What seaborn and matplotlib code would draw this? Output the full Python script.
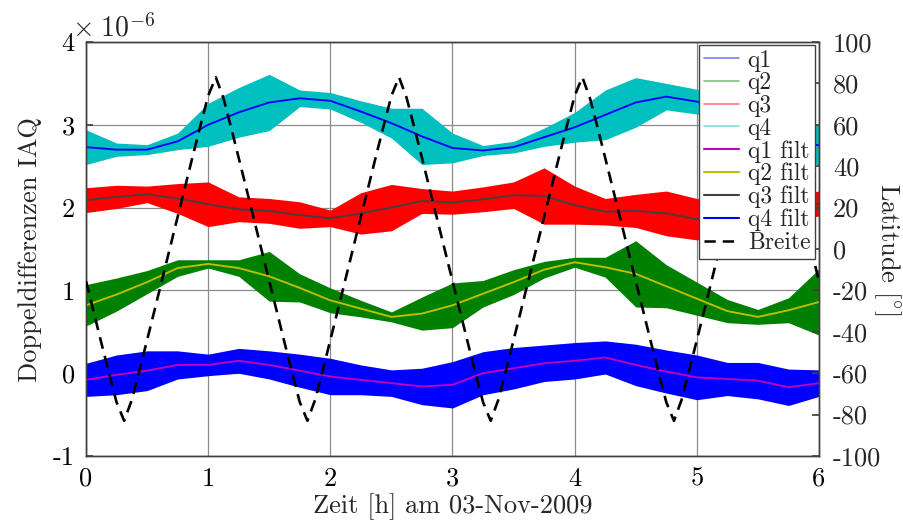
import numpy as np
import pandas as pd
import matplotlib
matplotlib.use("Agg")
import matplotlib.pyplot as plt
import seaborn as sns
from matplotlib.lines import Line2D

# Sample times of the smoothed series [h]
hours = [0.0, 0.25, 0.5, 0.75, 1.0, 1.25, 1.5, 1.75, 2.0, 2.25, 2.5, 2.75, 3.0,
         3.25, 3.5, 3.75, 4.0, 4.25, 4.5, 4.75, 5.0, 5.25, 5.5, 5.75, 6.0]

# Filtered double differences [1e-6]
q1_filt = [-0.08, -0.02, 0.03, 0.10, 0.10, 0.15, 0.10, 0.03, -0.04, -0.08, -0.12, -0.16, -0.14,
           0.00, 0.06, 0.12, 0.15, 0.19, 0.10, 0.02, -0.05, -0.07, -0.09, -0.17, -0.12]
q2_filt = [0.82, 0.95, 1.10, 1.27, 1.32, 1.27, 1.17, 1.03, 0.88, 0.78, 0.68, 0.72, 0.82,
           0.96, 1.10, 1.25, 1.34, 1.28, 1.20, 1.05, 0.90, 0.75, 0.68, 0.76, 0.86]
q3_filt = [2.09, 2.13, 2.16, 2.11, 2.04, 1.98, 1.96, 1.91, 1.87, 1.93, 2.00, 2.08, 2.06,
           2.10, 2.15, 2.14, 2.03, 1.95, 1.96, 1.93, 1.86, 1.85, 1.90, 1.98, 2.05]
q4_filt = [2.73, 2.70, 2.70, 2.80, 3.00, 3.15, 3.27, 3.32, 3.29, 3.16, 3.02, 2.86, 2.72,
           2.69, 2.73, 2.85, 2.97, 3.12, 3.27, 3.34, 3.28, 3.18, 3.02, 2.85, 2.75]

# Half-width of the raw (unfiltered) scatter around each filtered curve [1e-6]
q1_spread = [0.20, 0.24, 0.24, 0.17, 0.13, 0.15, 0.17, 0.20, 0.22, 0.18, 0.16, 0.22, 0.28,
             0.26, 0.25, 0.22, 0.22, 0.20, 0.25, 0.26, 0.27, 0.20, 0.22, 0.22, 0.16]
q2_spread = [0.25, 0.20, 0.14, 0.10, 0.05, 0.10, 0.30, 0.17, 0.15, 0.10, 0.06, 0.20, 0.27,
             0.16, 0.15, 0.10, 0.06, 0.12, 0.40, 0.26, 0.20, 0.14, 0.09, 0.15, 0.40]
q3_spread = [0.15, 0.14, 0.10, 0.18, 0.27, 0.15, 0.15, 0.16, 0.10, 0.25, 0.28, 0.15, 0.14,
             0.15, 0.16, 0.34, 0.23, 0.16, 0.20, 0.27, 0.25, 0.20, 0.18, 0.16, 0.15]
q4_spread = [0.21, 0.08, 0.06, 0.10, 0.26, 0.30, 0.34, 0.10, 0.10, 0.13, 0.18, 0.34, 0.18,
             0.06, 0.07, 0.11, 0.18, 0.30, 0.30, 0.16, 0.15, 0.15, 0.17, 0.20, 0.24]

# Satellite latitude ("Breite") [deg], sampled every 3.75 min
breite_hours = np.linspace(0.0, 6.0, 97)
breite = [-15.5, -30.3, -45.2, -59.8, -74.0, -83.0, -72.9, -58.7, -44.0, -29.2, -14.3, 0.6,
          15.5, 30.3, 45.2, 59.8, 74.0, 83.0, 72.9, 58.7, 44.0, 29.2, 14.3, -0.6,
          -15.5, -30.3, -45.2, -59.8, -74.0, -83.0, -72.9, -58.7, -44.0, -29.2, -14.3, 0.6,
          15.5, 30.3, 45.2, 59.8, 74.0, 83.0, 72.9, 58.7, 44.0, 29.2, 14.3, -0.6,
          -15.5, -30.3, -45.2, -59.8, -74.0, -83.0, -72.9, -58.7, -44.0, -29.2, -14.3, 0.6,
          15.5, 30.3, 45.2, 59.8, 74.0, 83.0, 72.9, 58.7, 44.0, 29.2, 14.3, -0.6,
          -15.5, -30.3, -45.2, -59.8, -74.0, -83.0, -72.9, -58.7, -44.0, -29.2, -14.3, 0.6,
          15.5, 30.3, 45.2, 59.8, 74.0, 83.0, 72.9, 58.7, 44.0, 29.2, 14.3, -0.6,
          -15.5]

x_ticks = [0, 1, 2, 3, 4, 5, 6]
left_ticks = [-1, 0, 1, 2, 3, 4]
left_tick_labels = ["-1", "0", "1", "2", "3", "4"]
right_ticks = [-100, -80, -60, -40, -20, 0, 20, 40, 60, 80, 100]
right_tick_labels = ["-100", "-80", "-60", "-40", "-20", "0", "20", "40", "60", "80", "100"]

raw_names = ["q1", "q2", "q3", "q4"]
filt_names = ["q1 filt", "q2 filt", "q3 filt", "q4 filt"]
raw_colors = ["#0000ff", "#008000", "#ff0000", "#00bfbf"]
filt_colors = ["#bf00bf", "#bfbf00", "#404040", "#0000ff"]

sns.set_theme(style="white")
plt.rcParams.update({
    "font.family": ["cmr10", "DejaVu Serif"],
    "mathtext.fontset": "cm",
    "axes.unicode_minus": False,
    "axes.formatter.use_mathtext": True,
})

FS = 19

fig = plt.figure(figsize=(9.04, 5.25), dpi=100)
ax = fig.add_axes([86 / 904, 1 - 456 / 525, 733 / 904, 414 / 525])

centres = [q1_filt, q2_filt, q3_filt, q4_filt]
spreads = [q1_spread, q2_spread, q3_spread, q4_spread]

# raw scatter bands
for c, s, col in zip(centres, spreads, raw_colors):
    c = np.asarray(c)
    s = np.asarray(s)
    ax.fill_between(hours, c - s, c + s, color=col, lw=0, zorder=2)

# filtered curves
filt_df = pd.DataFrame({
    "Zeit": np.tile(hours, 4),
    "Wert": np.concatenate(centres),
    "Reihe": np.repeat(filt_names, len(hours)),
})
sns.lineplot(data=filt_df, x="Zeit", y="Wert", hue="Reihe", palette=filt_colors,
             hue_order=filt_names, lw=1.35, legend=False, ax=ax, zorder=3)

ax.set_xlim(0, 6)
ax.set_ylim(-1, 4)
ax.set_xticks(x_ticks)
ax.set_xticklabels([str(v) for v in x_ticks])
ax.set_yticks(left_ticks)
ax.set_yticklabels(left_tick_labels)
ax.grid(True, color="#8a8a8a", lw=0.9)
ax.set_axisbelow(True)
for sp in ax.spines.values():
    sp.set_color("#404040")
    sp.set_linewidth(1.0)
ax.tick_params(axis="both", direction="in", length=5, color="#404040",
               labelsize=FS, labelcolor="black", pad=8)
ax.set_xlabel("Zeit [h] am 03-Nov-2009", fontsize=FS, labelpad=2)
ax.set_ylabel("Doppeldifferenzen IAQ", fontsize=FS, labelpad=8)
ax.text(-0.019, 0.999, r"$\times\;10^{-6}$", transform=ax.transAxes,
        fontsize=20, ha="left", va="bottom")

# latitude on the right axis
ax2 = ax.twinx()
sns.lineplot(x=breite_hours, y=breite, ax=ax2, color="black", lw=1.9,
             linestyle=(0, (4.5, 2.8)), zorder=4)
ax2.set_ylim(-100, 100)
ax2.set_xlim(0, 6)
ax2.set_yticks(right_ticks)
ax2.set_yticklabels(right_tick_labels)
ax2.tick_params(axis="y", direction="in", length=5, color="#404040",
                labelsize=FS, pad=10)
ax2.set_ylabel("Latitude [$^{\\circ}$]", fontsize=FS, rotation=270,
               va="center", ha="center")
ax2.yaxis.set_label_coords(1.093, 0.5)
for sp in ax2.spines.values():
    sp.set_color("#404040")
    sp.set_linewidth(1.0)

handles = [Line2D([], [], color=c, lw=1.2, alpha=0.5) for c in raw_colors]
handles += [Line2D([], [], color=c, lw=1.5) for c in filt_colors]
handles.append(Line2D([], [], color="black", lw=1.8, linestyle=(0, (4.5, 2.8))))
labels = raw_names + filt_names + ["Breite"]
leg = ax2.legend(handles, labels, loc="upper right", bbox_to_anchor=(0.9945, 0.993),
                 fontsize=17, frameon=True, fancybox=False, framealpha=1,
                 edgecolor="#404040", handlelength=1.5, handletextpad=0.35,
                 labelspacing=0.02, borderpad=0.2, borderaxespad=0)
leg.get_frame().set_linewidth(1.0)

fig.savefig("out.png", dpi=100)
